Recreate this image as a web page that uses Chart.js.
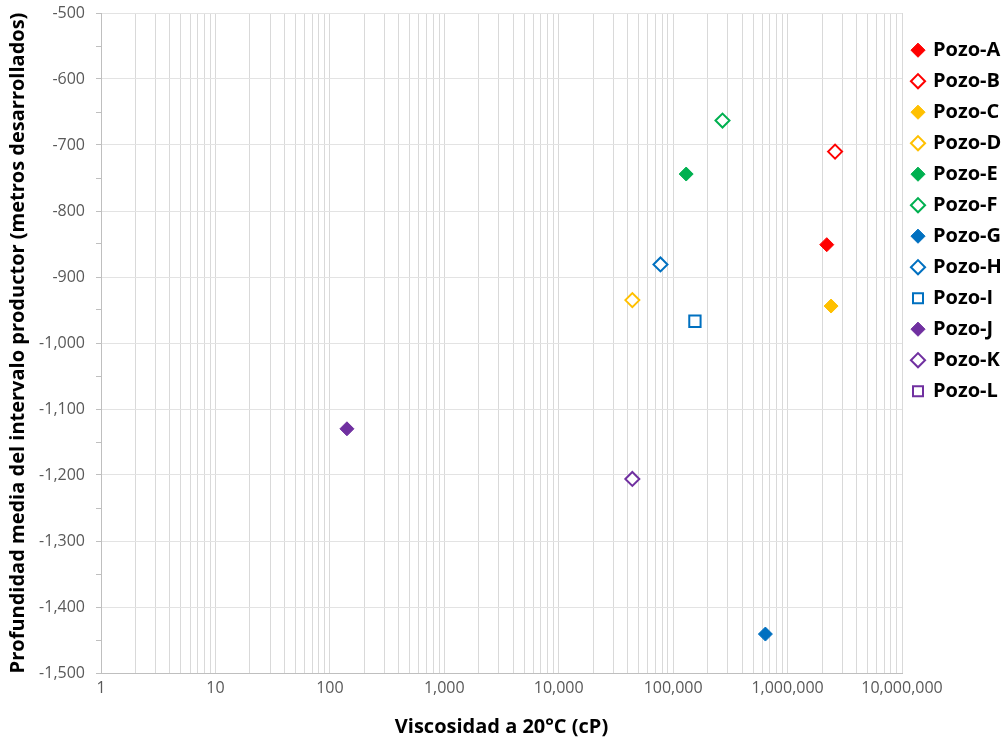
<!DOCTYPE html>
<html><head><meta charset="utf-8">
<script src="https://cdn.jsdelivr.net/npm/chart.js@4/dist/chart.umd.min.js"></script>
<style>html,body{margin:0;padding:0;background:#fff}#wrap{width:1008px;height:744px;position:relative}</style>
</head><body><div id="wrap"><canvas id="c"></canvas></div>
<script>
const wells = ['Pozo-A','Pozo-B','Pozo-C','Pozo-D','Pozo-E','Pozo-F','Pozo-G','Pozo-H','Pozo-I','Pozo-J','Pozo-K','Pozo-L'];
const viscosity = [2200000, 2600000, 2400000, 44000, 130000, 270000, 640000, 77500, 155000, 141, 44000, null];
const depth = [-851, -710, -944, -935, -744, -663, -1441, -881, -967, -1130, -1206, null];
const wellColors = ['#FF0000','#FF0000','#FFC000','#FFC000','#00B050','#00B050','#0070C0','#0070C0','#0070C0','#7030A0','#7030A0','#7030A0'];
const wellFilled = [true,false,true,false,true,false,true,false,false,true,false,false];
const wellShapes = ['rectRot','rectRot','rectRot','rectRot','rectRot','rectRot','rectRot','rectRot','rect','rectRot','rectRot','rect'];
const xTickLabels = ['1','10','100','1,000','10,000','100,000','1,000,000','10,000,000'];
const yTickLabels = ['-500','-600','-700','-800','-900','-1,000','-1,100','-1,200','-1,300','-1,400','-1,500'];
const xTitle = 'Viscosidad a 20°C (cP)';
const yTitle = 'Profundidad media del intervalo productor (metros desarrollados)';

const datasets = wells.map((w, i) => ({
  label: w,
  data: viscosity[i] === null ? [] : [{x: viscosity[i], y: depth[i]}],
  pointStyle: wellShapes[i],
  pointRadius: wellShapes[i] === 'rect' ? 8 : 7,
  pointBorderWidth: wellFilled[i] ? 1 : 2,
  borderColor: wellColors[i],
  backgroundColor: wellFilled[i] ? wellColors[i] : '#FFFFFF',
  pointBorderColor: wellColors[i],
  pointBackgroundColor: wellFilled[i] ? wellColors[i] : '#FFFFFF',
  showLine: false
}));

const isDecade = v => Math.abs(Math.log10(v) - Math.round(Math.log10(v))) < 1e-9;
const tickFont = {family: 'Open Sans', size: 16};
const boldFont = {family: 'Open Sans', size: 20, weight: 'bold'};

new Chart(document.getElementById('c'), {
  type: 'scatter',
  data: {datasets},
  options: {
    responsive: true, maintainAspectRatio: false, animation: false, devicePixelRatio: 1,
    events: [],
    layout: {padding: {top: 13, left: 0, right: 0, bottom: 0}},
    plugins: {
      tooltip: {enabled: false},
      legend: {
        position: 'right', align: 'start', maxWidth: 106,
        title: {display: true, text: ' ', font: {size: 1}, padding: {top: 15, bottom: 0}},
        labels: {
          usePointStyle: true, boxWidth: 10, boxHeight: 10, padding: 11,
          color: '#000000', font: boldFont
        }
      }
    },
    scales: {
      x: {
        type: 'logarithmic', min: 1, max: 10000000,
        afterFit: s => { s.height = 71; },
        afterBuildTicks: s => {
          const t = [];
          for (let e = 0; e < 7; e++) for (let m = 1; m < 10; m++) t.push({value: m * Math.pow(10, e)});
          t.push({value: 10000000});
          s.ticks = t;
        },
        grid: {color: '#d9d9d9', drawTicks: false, lineWidth: 1},
        border: {color: '#bfbfbf'},
        ticks: {
          autoSkip: false, maxRotation: 0, padding: 6, color: '#595959', font: tickFont,
          callback: v => isDecade(v) ? xTickLabels[Math.round(Math.log10(v))] : ''
        },
        title: {display: true, text: xTitle, color: '#000000', font: boldFont, padding: {top: 0, bottom: 5}}
      },
      y: {
        min: -1500, max: -500,
        afterFit: s => { s.width = 101; s.paddingTop = 0; s.paddingBottom = 0; },
        grid: {
          color: c => (c.tick && c.tick.value % 100 === 0) ? '#e3e3e3' : 'rgba(0,0,0,0)',
          tickColor: '#bfbfbf', tickLength: 5, lineWidth: 1
        },
        border: {color: '#bfbfbf'},
        ticks: {
          stepSize: 50, autoSkip: false, padding: 11, color: '#595959', font: tickFont,
          callback: v => (v % 100 === 0) ? yTickLabels[Math.round((-500 - v) / 100)] : ''
        },
        title: {display: true, text: yTitle, color: '#000000', font: boldFont, padding: {top: 6, bottom: 0}}
      }
    }
  }
});
</script>
</body></html>
